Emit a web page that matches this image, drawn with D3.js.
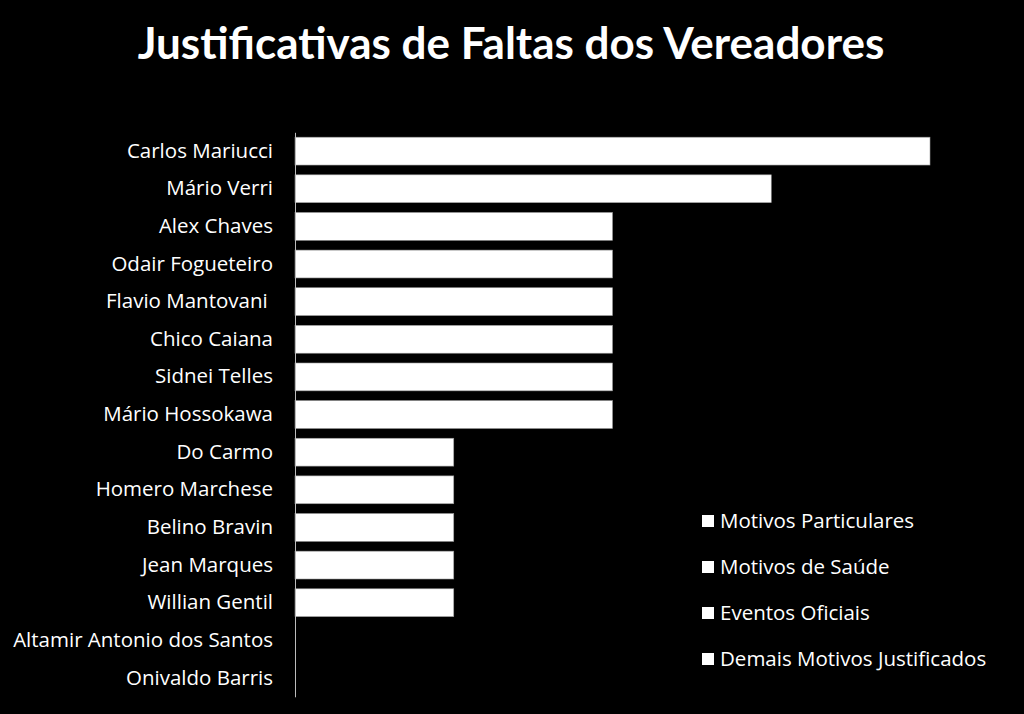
<!DOCTYPE html>
<html><head><meta charset="utf-8">
<script src="https://cdn.jsdelivr.net/npm/d3@7"></script>
<style>html,body{margin:0;padding:0;background:#000;}svg{display:block;}</style>
</head><body>
<script>
const vereadores = ["Carlos Mariucci","Mário Verri","Alex Chaves","Odair Fogueteiro","Flavio Mantovani ","Chico Caiana","Sidnei Telles","Mário Hossokawa","Do Carmo","Homero Marchese","Belino Bravin","Jean Marques","Willian Gentil","Altamir Antonio dos Santos","Onivaldo Barris"];
const series = ["Motivos Particulares","Motivos de Saúde","Eventos Oficiais","Demais Motivos Justificados"];
const motivosParticulares = [4,3,2,2,2,2,2,2,1,1,1,1,1,0,0];
const motivosSaude        = [0,0,0,0,0,0,0,0,0,0,0,0,0,0,0];
const eventosOficiais     = [0,0,0,0,0,0,0,0,0,0,0,0,0,0,0];
const demaisMotivos       = [0,0,0,0,0,0,0,0,0,0,0,0,0,0,0];
const seriesValues = [motivosParticulares, motivosSaude, eventosOficiais, demaisMotivos];

const W=1024,H=714;
const svg=d3.select("body").append("svg").attr("width",W).attr("height",H).style("background","#000");
svg.append("rect").attr("width",W).attr("height",H).attr("fill","#000");
const font="'Open Sans', sans-serif";

svg.append("text").attr("x",511).attr("y",59).attr("text-anchor","middle")
 .attr("fill","#fff").attr("font-family","Lato, sans-serif").attr("font-weight","bold").attr("font-size",44)
 .text("Justificativas de Faltas dos Vereadores");

const x0=295;
const x=d3.scaleLinear().domain([0,4]).range([x0,930]);
const y=d3.scaleBand().domain(vereadores).range([132.3,696.8]).paddingInner(0.26).paddingOuter(0.13);

const table=vereadores.map((v,i)=>{const o={name:v};series.forEach((s,j)=>o[s]=seriesValues[j][i]);return o;});
const stack=d3.stack().keys(series)(table);

const colors=["#fff","#fff","#fff","#fff"];
svg.append("g").selectAll("g").data(stack).join("g").attr("fill",(d,i)=>colors[i])
 .selectAll("rect").data(d=>d.filter(p=>p[1]-p[0]>0)).join("rect")
 .attr("x",d=>x(d[0])).attr("width",d=>x(d[1])-x(d[0]))
 .attr("y",d=>y(d.data.name)).attr("height",y.bandwidth())
 .attr("stroke","#999").attr("stroke-width",0.6);

const ax=svg.append("g").attr("transform",`translate(${x0},0)`)
 .call(d3.axisLeft(y).tickSize(0).tickPadding(22));
ax.select(".domain").attr("stroke","#bbb").attr("stroke-width",1);
ax.selectAll("text").attr("fill","#fff").attr("font-family",font).attr("font-size",20.5).style("white-space","pre");

const lg=svg.append("g");
series.forEach((s,i)=>{
  const yy=521+i*46;
  lg.append("rect").attr("x",702).attr("y",yy-6).attr("width",12).attr("height",12).attr("fill","#fff");
  lg.append("text").attr("x",720).attr("y",yy).attr("dy","0.35em").attr("fill","#fff")
   .attr("font-family",font).attr("font-size",20.5).text(s);
});
</script>
</body></html>
